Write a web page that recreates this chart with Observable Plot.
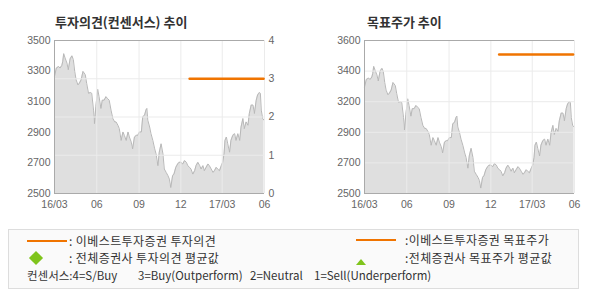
<!DOCTYPE html>
<html>
<head>
<meta charset="utf-8">
<script src="https://cdn.jsdelivr.net/npm/d3@7"></script>
<script src="https://cdn.jsdelivr.net/npm/@observablehq/plot@0.6"></script>
<style>
  html, body { margin: 0; padding: 0; background: #fff; }
  #wrap { position: relative; width: 590px; height: 300px; overflow: hidden; }
  .title { position: absolute; font: bold 13px "Noto Sans CJK KR", sans-serif; color: #333; line-height: 14px; white-space: nowrap; }
  .chart { position: absolute; top: 0; }
  #legend { position: absolute; left: 8px; top: 229px; width: 569px; height: 58px; border: 1px solid #ddd; background: #fafafa; }
  .lt { position: absolute; font: 12px "Noto Sans CJK KR", sans-serif; color: #333; line-height: 14px; white-space: pre; letter-spacing: 0.4px; }
  .lt.small { font-size: 11.5px; letter-spacing: 0; }
  .lline { position: absolute; height: 2.5px; background: #f07400; }
  .diamond { position: absolute; width: 10px; height: 10px; background: #7fc41c; transform: rotate(45deg); }
  .tri { position: absolute; width: 0; height: 0; border-left: 5px solid transparent; border-right: 5px solid transparent; border-bottom: 6px solid #7fc41c; }
</style>
</head>
<body>
<div id="wrap">
  <div id="c1" class="chart" style="left:0px"></div>
  <div id="c2" class="chart" style="left:300px"></div>
  <div class="title" style="left:55px;top:15px">투자의견(컨센서스) 추이</div>
  <div class="title" style="left:367px;top:15px">목표주가 추이</div>
  <div id="legend"></div>
</div>
<script>
// ---- data ----
const priceDates = [
"2016-03-01","2016-03-05","2016-03-10","2016-03-13","2016-03-17","2016-03-19","2016-03-21","2016-03-24","2016-03-28","2016-03-31",
"2016-04-04","2016-04-08","2016-04-11","2016-04-14","2016-04-17","2016-04-21","2016-04-24","2016-04-28","2016-05-02","2016-05-07",
"2016-05-10","2016-05-14","2016-05-18","2016-05-21","2016-05-25","2016-05-27","2016-05-30","2016-06-03","2016-06-06","2016-06-10",
"2016-06-13","2016-06-17","2016-06-21","2016-06-24","2016-06-28","2016-07-02","2016-07-06","2016-07-10","2016-07-13","2016-07-17",
"2016-07-20","2016-07-24","2016-07-28","2016-07-31","2016-08-04","2016-08-08","2016-08-11","2016-08-15","2016-08-18","2016-08-22",
"2016-08-26","2016-08-29","2016-09-02","2016-09-06","2016-09-09","2016-09-13","2016-09-16","2016-09-18","2016-09-20","2016-09-24",
"2016-09-27","2016-10-01","2016-10-05","2016-10-08","2016-10-12","2016-10-15","2016-10-19","2016-10-23","2016-10-26","2016-10-30",
"2016-11-03","2016-11-06","2016-11-09","2016-11-13","2016-11-16","2016-11-20","2016-11-24","2016-11-27","2016-12-01","2016-12-05",
"2016-12-09","2016-12-13","2016-12-16","2016-12-20","2016-12-23","2016-12-27","2016-12-31","2017-01-03","2017-01-07","2017-01-11",
"2017-01-14","2017-01-18","2017-01-21","2017-01-25","2017-01-29","2017-02-01","2017-02-05","2017-02-09","2017-02-12","2017-02-16",
"2017-02-19","2017-02-23","2017-02-27","2017-03-02","2017-03-05","2017-03-07","2017-03-10","2017-03-13","2017-03-17","2017-03-20",
"2017-03-24","2017-03-28","2017-03-31","2017-04-04","2017-04-08","2017-04-11","2017-04-15","2017-04-18","2017-04-22","2017-04-26",
"2017-04-29","2017-05-03","2017-05-07","2017-05-10","2017-05-14","2017-05-17","2017-05-21","2017-05-23","2017-05-25","2017-05-28",
"2017-05-31"];
const priceValues = [
3265,3320,3330,3320,3337,3364,3414,3386,3353,3309,
3380,3400,3375,3298,3243,3210,3220,3243,3298,3276,
3220,3155,3160,3155,3045,2957,3067,3181,3133,3056,
3110,3110,3133,3122,3110,3045,2990,2968,2968,2946,
2924,2847,2902,2880,2847,2902,2869,2836,2792,2869,
2880,2880,2902,2902,3001,3012,3045,3056,2979,2935,
2891,2847,2792,2759,2682,2770,2825,2759,2660,2638,
2616,2594,2539,2616,2627,2671,2693,2704,2704,2693,
2715,2704,2682,2671,2660,2627,2649,2682,2704,2682,
2660,2682,2649,2671,2693,2682,2660,2638,2649,2671,
2660,2649,2682,2704,2759,2847,2869,2825,2770,2847,
2880,2891,2847,2891,2847,2935,2990,2924,2968,2946,
3023,3078,3078,3023,3110,3144,3160,3155,3045,2990,
2979];
const opinionDates = ["2016-12-20","2017-05-30"];
const opinionValues = [3, 3];
const targetDates = ["2016-12-19","2017-05-29"];
const targetValues = [3500, 3500];
const monthTicks = ["2016-03-01","2016-06-01","2016-09-01","2016-12-01","2017-03-01","2017-06-01"];
const monthTickLabels = ["16/03","06","09","12","17/03","06"];
const leftPriceTicks = [2500, 2700, 2900, 3100, 3300, 3500];
const opinionTicks = [0, 1, 2, 3, 4];
const rightPriceTicks = [2500, 2720, 2940, 3160, 3380, 3600];
const rightPriceTickLabels = ["2500", "2700", "2900", "3200", "3400", "3600"];

// ---- build ----
const parse = d3.utcParse("%Y-%m-%d");
const price = priceDates.map((d, i) => ({date: parse(d), value: priceValues[i]}));
const opinion = opinionDates.map((d, i) => ({date: parse(d), value: opinionValues[i]}));
const target = targetDates.map((d, i) => ({date: parse(d), value: targetValues[i]}));
const mTicks = monthTicks.map(parse);
const mLabel = d => monthTickLabels[mTicks.findIndex(t => +t === +d)];
const xDomain = [mTicks[0], mTicks[mTicks.length - 1]];
const ORANGE = "#f07400";
const axisStyle = {background: "none", fontFamily: "'Liberation Sans', Arial, sans-serif", fontSize: "10.5px", color: "#666", overflow: "visible"};

// left chart: price (left axis) + opinion (right axis 0..4)
const lMin = 2500, lMax = 3500;
const opToPrice = v => lMin + v * (lMax - lMin) / 4;

const c1 = Plot.plot({
  width: 300, height: 215,
  marginLeft: 54, marginRight: 36, marginTop: 40, marginBottom: 22,
  style: axisStyle,
  x: {type: "utc", domain: xDomain},
  y: {domain: [lMin, lMax]},
  marks: [
    Plot.areaY(price, {x: "date", y1: lMin, y2: "value", fill: "#dfdfdf"}),
    Plot.line(price, {x: "date", y: "value", stroke: "#b8b8b8", strokeWidth: 1}),
    Plot.gridX(mTicks.slice(1), {stroke: "#ebebeb", strokeOpacity: 1}),
    Plot.gridY(opinionTicks.slice(1, 4).map(opToPrice), {stroke: "#ebebeb", strokeOpacity: 1}),
    Plot.ruleY([lMax], {stroke: "#aaa"}),
    Plot.ruleY([lMin], {stroke: "#aaa"}),
    Plot.ruleX([xDomain[0]], {stroke: "#aaa"}),
    Plot.axisX({ticks: mTicks, tickFormat: mLabel, tickSize: 0, tickPadding: 7, label: null}),
    Plot.axisY({ticks: leftPriceTicks, tickFormat: d => String(d), tickSize: 0, tickPadding: 4, label: null}),
    Plot.axisY({anchor: "right", ticks: opinionTicks.map(opToPrice), tickFormat: d => String(Math.round((d - lMin) * 4 / (lMax - lMin))), tickSize: 0, tickPadding: 4, label: null}),
    Plot.line(opinion, {x: "date", y: d => opToPrice(d.value), stroke: ORANGE, strokeWidth: 2.5})
  ]
});
document.getElementById("c1").append(c1);

// right chart: price with target price
const rMin = 2500, rMax = 3600;
const c2 = Plot.plot({
  width: 290, height: 215,
  marginLeft: 64, marginRight: 16, marginTop: 40, marginBottom: 22,
  style: axisStyle,
  x: {type: "utc", domain: xDomain},
  y: {domain: [rMin, rMax]},
  marks: [
    Plot.areaY(price, {x: "date", y1: rMin, y2: "value", fill: "#dfdfdf"}),
    Plot.line(price, {x: "date", y: "value", stroke: "#b8b8b8", strokeWidth: 1}),
    Plot.gridX(mTicks.slice(1), {stroke: "#ebebeb", strokeOpacity: 1}),
    Plot.gridY(rightPriceTicks.slice(1, 5), {stroke: "#ebebeb", strokeOpacity: 1}),
    Plot.ruleY([rMax], {stroke: "#aaa"}),
    Plot.ruleY([rMin], {stroke: "#aaa"}),
    Plot.ruleX([xDomain[0]], {stroke: "#aaa"}),
    Plot.axisX({ticks: mTicks, tickFormat: mLabel, tickSize: 0, tickPadding: 7, label: null}),
    Plot.axisY({ticks: rightPriceTicks, tickFormat: d => rightPriceTickLabels[rightPriceTicks.indexOf(d)], tickSize: 0, tickPadding: 4, label: null}),
    Plot.line(target, {x: "date", y: "value", stroke: ORANGE, strokeWidth: 2.5})
  ]
});
document.getElementById("c2").append(c2);

// legend
const legendItems = [
  {kind: "line", text: ": 이베스트투자증권 투자의견", mx: 18, my: 9.5, tx: 60, ty: 4},
  {kind: "line", text: ":이베스트투자증권 목표주가", mx: 347, my: 8.5, tx: 396, ty: 3},
  {kind: "diamond", text: ": 전체증권사 투자의견 평균값", mx: 22, my: 23, tx: 60, ty: 21},
  {kind: "tri", text: ":전체증권사 목표주가 평균값", mx: 347, my: 29, tx: 396, ty: 21}
];
const consensusParts = ["컨센서스:4=S/Buy", "3=Buy(Outperform)", "2=Neutral", "1=Sell(Underperform)"];
const consensusX = [18, 129, 241, 305];
const legend = document.getElementById("legend");
for (const it of legendItems) {
  const m = document.createElement("div");
  if (it.kind === "line") { m.className = "lline"; m.style.left = it.mx + "px"; m.style.top = it.my + "px"; m.style.width = "40px"; }
  else if (it.kind === "diamond") { m.className = "diamond"; m.style.left = it.mx + "px"; m.style.top = it.my + "px"; }
  else { m.className = "tri"; m.style.left = it.mx + "px"; m.style.top = it.my + "px"; }
  legend.append(m);
  const t = document.createElement("div");
  t.className = "lt"; t.textContent = it.text; t.style.left = it.tx + "px"; t.style.top = it.ty + "px";
  legend.append(t);
}
consensusParts.forEach((p, i) => {
  const t = document.createElement("div");
  t.className = "lt small"; t.textContent = p; t.style.left = consensusX[i] + "px"; t.style.top = "38px";
  legend.append(t);
});
</script>
</body>
</html>
